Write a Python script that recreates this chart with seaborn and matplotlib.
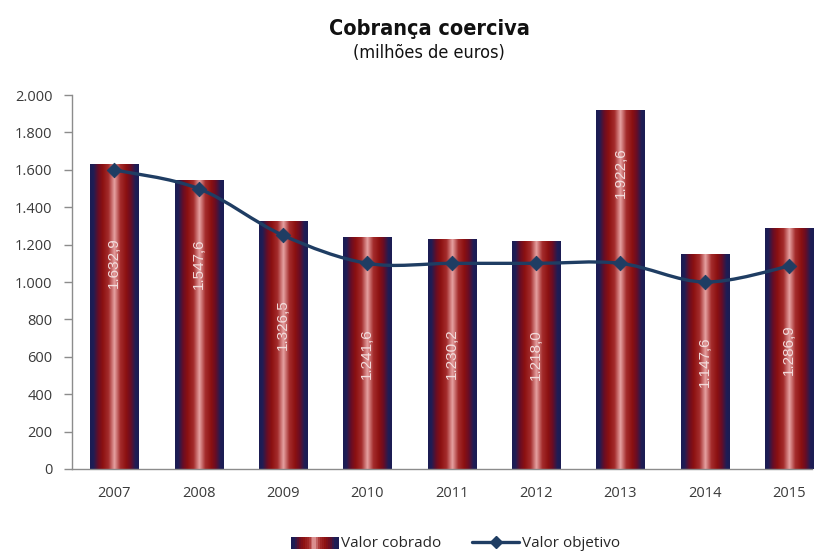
import numpy as np
import pandas as pd
import seaborn as sns
import matplotlib
matplotlib.use("Agg")
import matplotlib.pyplot as plt
from matplotlib.colors import LinearSegmentedColormap
from matplotlib.path import Path
from matplotlib.patches import PathPatch, Rectangle
from matplotlib.lines import Line2D
from matplotlib.legend_handler import HandlerBase
from matplotlib.ticker import FuncFormatter

# Data (milhões de euros)
anos = ["2007", "2008", "2009", "2010", "2011", "2012", "2013", "2014", "2015"]
valor_cobrado = [1632.9, 1547.6, 1326.5, 1241.6, 1230.2, 1218.0, 1922.6, 1147.6, 1286.9]
valor_objetivo = [1600, 1500, 1250, 1100, 1100, 1100, 1100, 1000, 1085]
# vertical anchor of each bar's value label (data units)
label_y = [1106, 1096, 771, 617, 617, 612, 1585, 574, 638]

df = pd.DataFrame({"ano": anos, "cobrado": valor_cobrado, "objetivo": valor_objetivo})

sns.set_theme(style="white")
plt.rcParams["font.family"] = ["Open Sans", "DejaVu Sans"]

bar_cmap = LinearSegmentedColormap.from_list(
    "cilindro",
    [(0.0, "#1b1c52"), (0.07, "#1f1d55"), (0.17, "#6a0d24"), (0.26, "#8c1111"),
     (0.38, "#a42c2c"), (0.5, "#e6a2a2"), (0.62, "#a42c2c"), (0.74, "#8c1111"),
     (0.83, "#6a0d24"), (0.93, "#1f1d55"), (1.0, "#1b1c52")],
)
line_color = "#1f3d63"

fig = plt.figure(figsize=(8.24, 5.53), dpi=100)
ax = fig.add_axes([0.0874, 0.152, 0.898, 0.676])

sns.barplot(data=df, x="ano", y="cobrado", ax=ax, width=0.57, color="#8c1111",
            saturation=1, linewidth=0)

# Horizontal gradient fill for every bar
grad = np.linspace(0, 1, 256).reshape(1, -1)
for patch in list(ax.patches):
    x0, y0 = patch.get_x(), patch.get_y()
    w, h = patch.get_width(), patch.get_height()
    im = ax.imshow(grad, cmap=bar_cmap, aspect="auto",
                   extent=[x0, x0 + w, y0, y0 + h], zorder=2, interpolation="bilinear")
    im.set_clip_path(patch)
    patch.set_facecolor("none")

# Value labels inside the bars
for i, (v, ly) in enumerate(zip(valor_cobrado, label_y)):
    txt = f"{v:,.1f}".replace(",", " ").replace(".", ",").replace(" ", ".")
    ax.text(i, ly, txt, rotation=90, ha="center", va="center",
            color="#f3dcdc", fontsize=11, zorder=4, family="Liberation Sans")

# Smoothed target line (Catmull-Rom rendered as cubic Bezier segments)
xs = np.arange(len(valor_objetivo), dtype=float)
ys = np.array(valor_objetivo, dtype=float)
verts = [(xs[0], ys[0])]
codes = [Path.MOVETO]
n = len(xs)
for i in range(n - 1):
    p0 = np.array([xs[max(i - 1, 0)], ys[max(i - 1, 0)]])
    p1 = np.array([xs[i], ys[i]])
    p2 = np.array([xs[i + 1], ys[i + 1]])
    p3 = np.array([xs[min(i + 2, n - 1)], ys[min(i + 2, n - 1)]])
    c1 = p1 + (p2 - p0) / 6.0
    c2 = p2 - (p3 - p1) / 6.0
    verts += [tuple(c1), tuple(c2), tuple(p2)]
    codes += [Path.CURVE4] * 3
ax.add_patch(PathPatch(Path(verts, codes), facecolor="none", edgecolor=line_color,
                       linewidth=2.4, zorder=5, capstyle="round", joinstyle="round"))
sns.scatterplot(x=xs, y=ys, ax=ax, marker="D", s=55, color=line_color,
                edgecolor=line_color, zorder=6, legend=False)

ax.set_ylim(0, 2000)
ax.set_xlim(-0.5, 8.27)
ax.set_yticks(np.arange(0, 2001, 200))
ax.yaxis.set_major_formatter(FuncFormatter(lambda v, p: f"{int(v):,}".replace(",", ".")))
ax.set_xlabel("")
ax.set_ylabel("")
for s in ["top", "right"]:
    ax.spines[s].set_visible(False)
for s in ["left", "bottom"]:
    ax.spines[s].set_color("#8c8c8c")
    ax.spines[s].set_linewidth(1)
ax.tick_params(axis="y", left=True, length=6, width=1, color="#8c8c8c",
               labelsize=10.5, labelcolor="#3a3a3a", pad=8)
ax.tick_params(axis="x", bottom=False, labelsize=10.5, labelcolor="#3a3a3a", pad=6)

fig.text(0.521, 0.937, "Cobrança coerciva", ha="center", va="baseline", fontsize=15.5,
         fontweight="bold", family="DejaVu Sans", fontstretch="condensed", color="#111111")
fig.text(0.521, 0.895, "(milhões de euros)", ha="center", va="baseline", fontsize=13,
         family="DejaVu Sans", fontstretch="condensed", color="#111111")


class GradientHandler(HandlerBase):
    def create_artists(self, legend, orig_handle, xdescent, ydescent, width, height,
                       fontsize, trans):
        artists = []
        k = 24
        for j in range(k):
            artists.append(Rectangle((xdescent + width * j / k, ydescent - 1),
                                     width / k + 0.3, height + 2,
                                     facecolor=bar_cmap((j + 0.5) / k),
                                     edgecolor="none", transform=trans))
        return artists


bar_handle = Rectangle((0, 0), 1, 1)
line_handle = Line2D([], [], color=line_color, linewidth=2.4, marker="D", markersize=6)
fig.legend([bar_handle, line_handle], ["Valor cobrado", "Valor objetivo"],
           handler_map={Rectangle: GradientHandler()},
           loc="lower center", bbox_to_anchor=(0.553, -0.022), ncol=2, frameon=False,
           fontsize=11, handlelength=3.1, handleheight=0.6, columnspacing=2.0,
           handletextpad=0.2)

fig.savefig("out.png", dpi=100)
